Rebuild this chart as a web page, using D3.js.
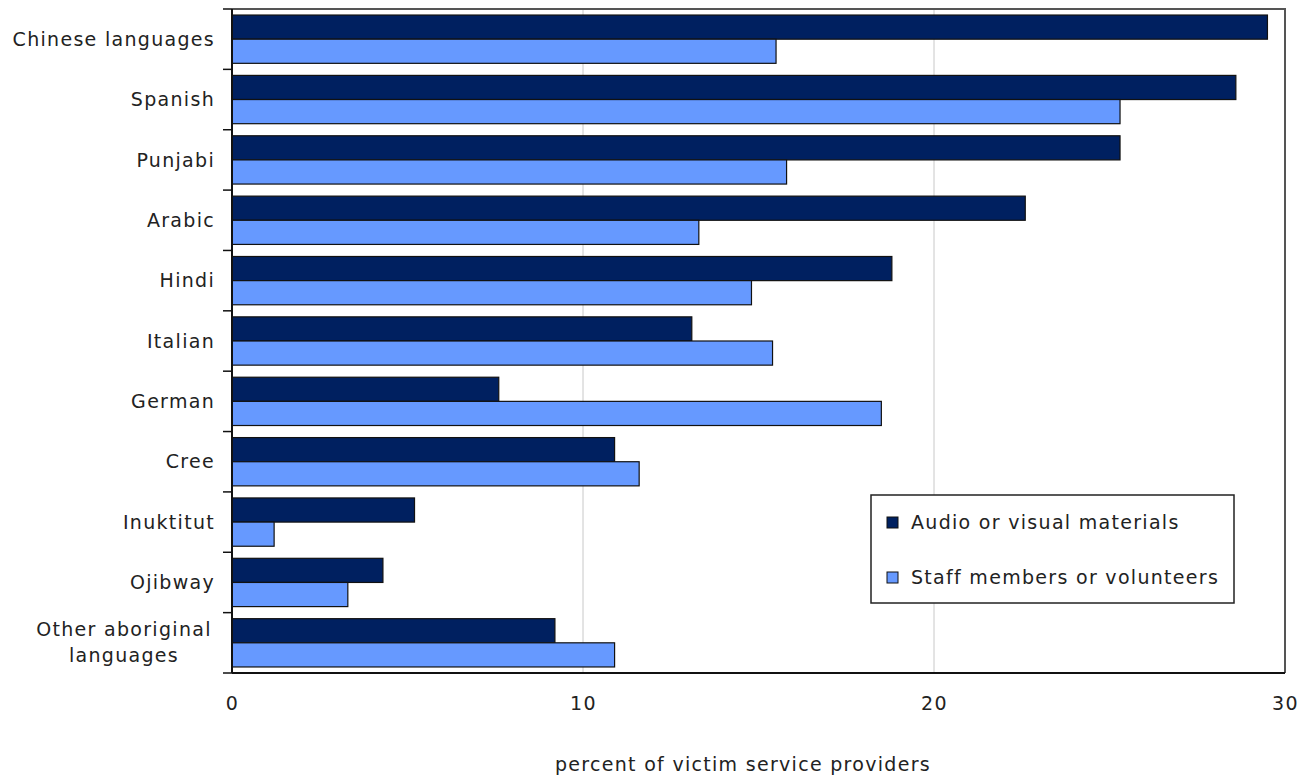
<!DOCTYPE html>
<html>
<head>
<meta charset="utf-8">
<script src="https://cdn.jsdelivr.net/npm/d3@7"></script>
<style>
  html, body { margin: 0; padding: 0; background: #fff; }
  svg text { font-family: "DejaVu Sans", Verdana, sans-serif; fill: #222; letter-spacing: 1.3px; }
</style>
</head>
<body>
<svg id="chart" width="1306" height="775"></svg>
<script>
// Languages in which services are offered
const categories = [
  "Chinese languages", "Spanish", "Punjabi", "Arabic", "Hindi", "Italian",
  "German", "Cree", "Inuktitut", "Ojibway", "Other aboriginal\nlanguages"
];
const seriesNames = ["Audio or visual materials", "Staff members or volunteers"];
// percent of victim service providers
const audioVisual = [29.5, 28.6, 25.3, 22.6, 18.8, 13.1, 7.6, 10.9, 5.2, 4.3, 9.2];
const staffVolunteers = [15.5, 25.3, 15.8, 13.3, 14.8, 15.4, 18.5, 11.6, 1.2, 3.3, 10.9];
const xTicks = [0, 10, 20, 30];
const colors = ["#002060", "#6699ff"];

const svg = d3.select("#chart");
const plot = { left: 232, right: 1285, top: 9, bottom: 673 };

const x = d3.scaleLinear().domain([0, 30]).range([plot.left, plot.right]);
const y = d3.scaleBand().domain(categories).range([plot.top, plot.bottom]).paddingInner(0.2).paddingOuter(0.1);
const ySub = d3.scaleBand().domain([0, 1]).range([0, y.bandwidth()]);

// vertical gridlines
svg.append("g").selectAll("line")
  .data(xTicks.filter(t => t > 0 && t < 30))
  .join("line")
  .attr("x1", d => x(d)).attr("x2", d => x(d))
  .attr("y1", plot.top).attr("y2", plot.bottom)
  .attr("stroke", "#c8c8c8").attr("stroke-width", 1);

// plot frame (top and right)
svg.append("path")
  .attr("d", `M${plot.left},${plot.top}H${plot.right}V${plot.bottom}`)
  .attr("fill", "none").attr("stroke", "#555").attr("stroke-width", 2);

// bars
const rows = categories.map((c, i) => ({ c, vals: [audioVisual[i], staffVolunteers[i]] }));
const groups = svg.append("g").selectAll("g")
  .data(rows).join("g")
  .attr("transform", d => `translate(0,${y(d.c)})`);
groups.selectAll("rect")
  .data(d => d.vals.map((v, k) => ({ v, k })))
  .join("rect")
  .attr("x", x(0))
  .attr("y", d => ySub(d.k))
  .attr("width", d => x(d.v) - x(0))
  .attr("height", ySub.bandwidth())
  .attr("fill", d => colors[d.k])
  .attr("stroke", "#111").attr("stroke-width", 1.2);

// category axis with ticks at band boundaries
const yAxisG = svg.append("g");
const boundaries = d3.range(categories.length + 1).map(i => plot.top + i * (plot.bottom - plot.top) / categories.length);
yAxisG.selectAll("line.tick").data(boundaries).join("line")
  .attr("x1", plot.left - 9).attr("x2", plot.left)
  .attr("y1", d => d).attr("y2", d => d)
  .attr("stroke", "#111").attr("stroke-width", 1.5);
yAxisG.append("line")
  .attr("x1", plot.left).attr("x2", plot.left).attr("y1", plot.top).attr("y2", plot.bottom)
  .attr("stroke", "#111").attr("stroke-width", 2);
// bottom axis line
svg.append("line")
  .attr("x1", plot.left).attr("x2", plot.right).attr("y1", plot.bottom).attr("y2", plot.bottom)
  .attr("stroke", "#111").attr("stroke-width", 2);

// category labels
const fs = 19;
categories.forEach((c, i) => {
  const lines = c.split("\n");
  const cy = y(c) + y.bandwidth() / 2;
  if (lines.length === 1) {
    svg.append("text").attr("x", 215).attr("y", cy).attr("dy", "0.35em")
      .attr("text-anchor", "end").attr("font-size", fs).text(c);
  } else {
    const t = svg.append("text").attr("x", 123).attr("y", cy)
      .attr("text-anchor", "middle").attr("font-size", fs);
    lines.forEach((l, j) => {
      t.append("tspan").attr("x", 124).attr("y", cy + (j - (lines.length - 1) / 2) * 26)
        .attr("dy", "0.35em").text(l);
    });
  }
});

// x axis tick labels
const xAxis = d3.axisBottom(x).tickValues(xTicks).tickSize(0).tickPadding(0);
const xg = svg.append("g").attr("transform", `translate(0,${plot.bottom})`).call(xAxis);
xg.select(".domain").remove();
xg.selectAll("text").attr("y", 37).attr("dy", 0)
  .attr("font-size", fs).attr("font-family", "DejaVu Sans, Verdana, sans-serif").attr("fill", "#222");

// axis title
svg.append("text").attr("x", 743).attr("y", 771).attr("text-anchor", "middle")
  .attr("font-size", fs).text("percent of victim service providers");

// legend
const lg = svg.append("g");
lg.append("rect").attr("x", 871).attr("y", 495).attr("width", 363).attr("height", 108)
  .attr("fill", "#fff").attr("stroke", "#222").attr("stroke-width", 1.5);
seriesNames.forEach((n, k) => {
  const yy = 522 + k * 55;
  lg.append("rect").attr("x", 887).attr("y", yy - 5).attr("width", 11).attr("height", 11)
    .attr("fill", colors[k]).attr("stroke", "#111").attr("stroke-width", 1);
  lg.append("text").attr("x", 911).attr("y", yy).attr("dy", "0.35em")
    .attr("font-size", fs).text(n);
});
</script>
</body>
</html>
